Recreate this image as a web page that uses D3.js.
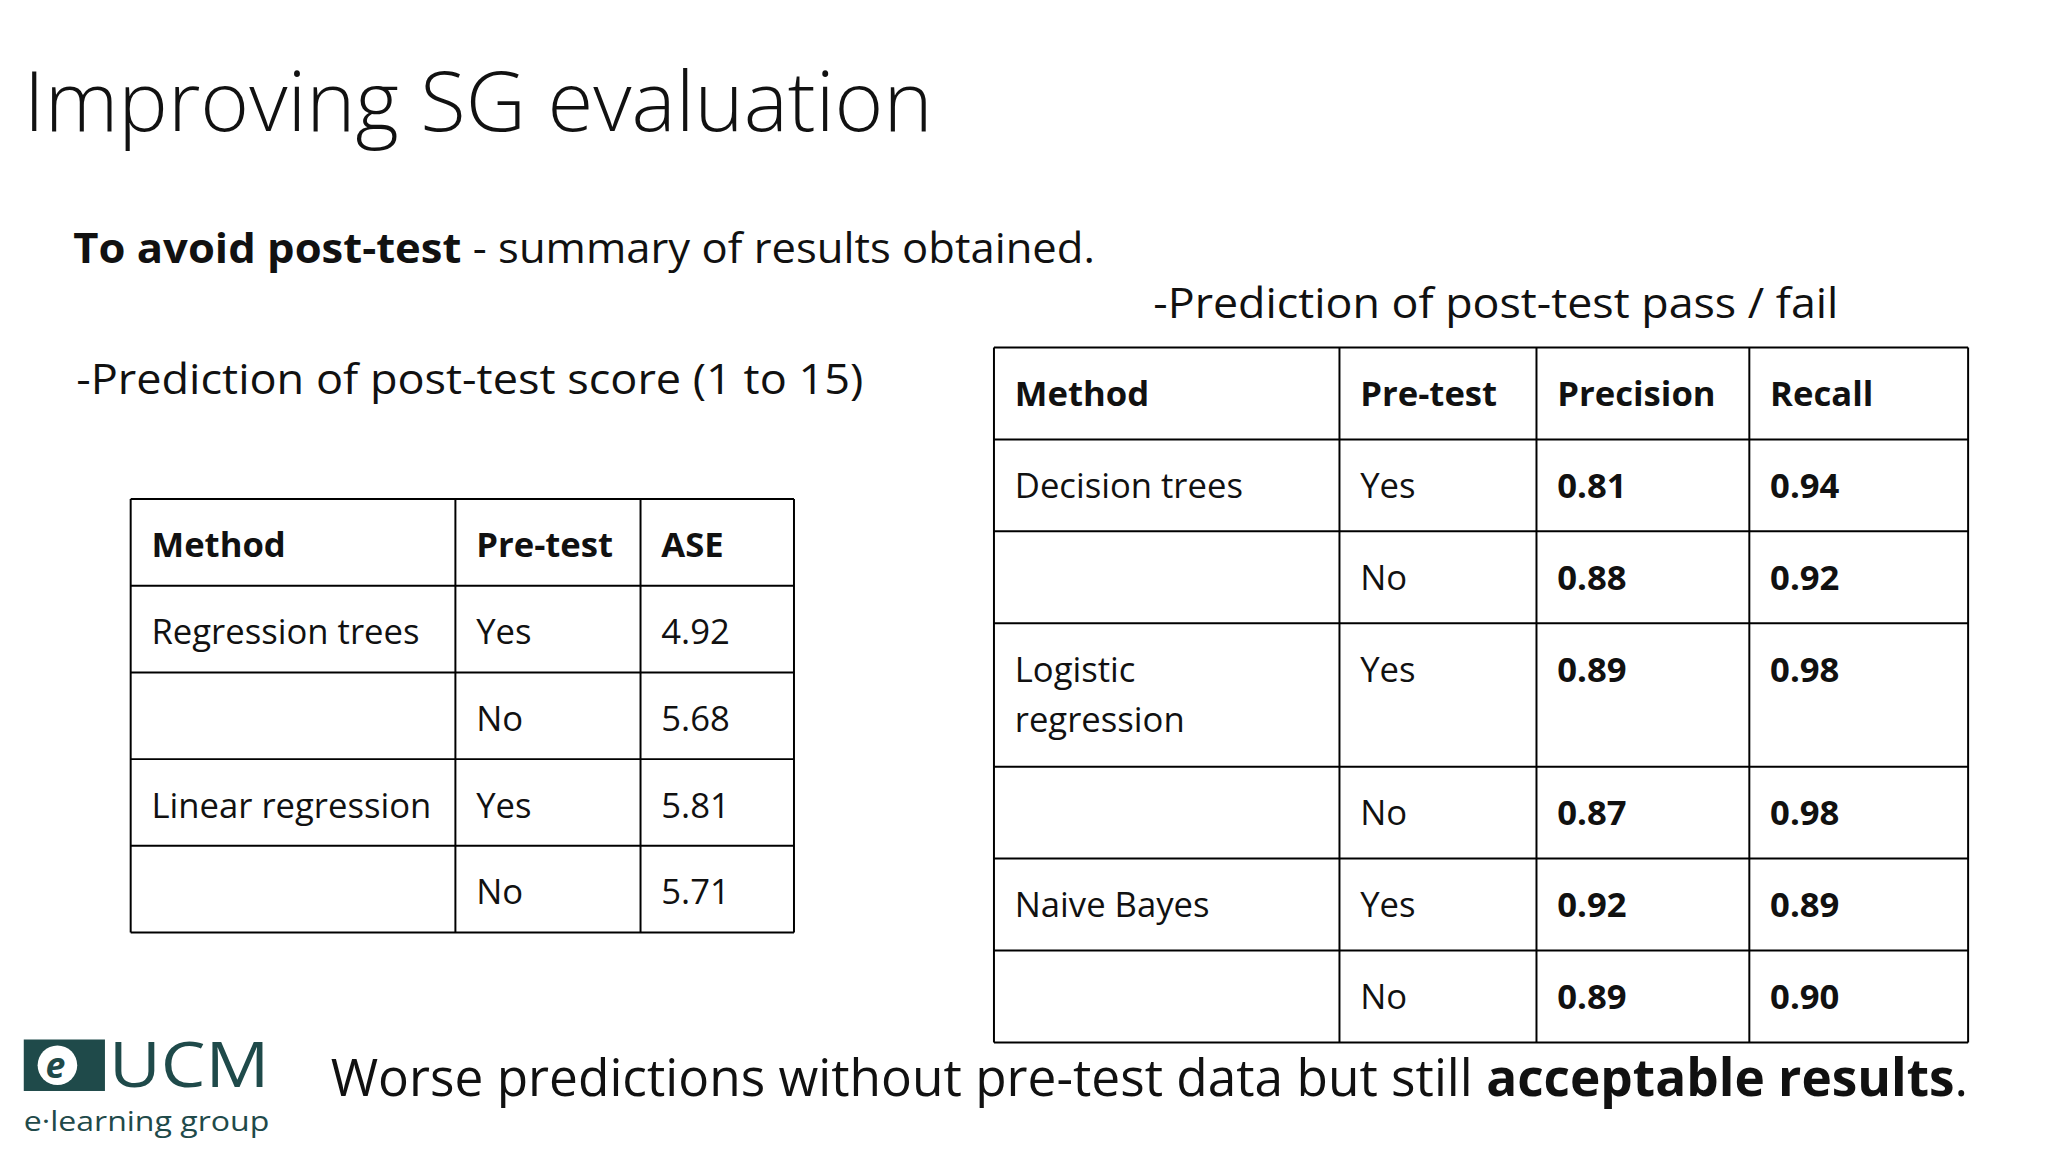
<!DOCTYPE html>
<html>
<head>
<meta charset="utf-8">
<script src="https://cdn.jsdelivr.net/npm/d3@7"></script>
<style>
body { margin: 0; background: #fff; }
text { font-family: "Open Sans", sans-serif; fill: #111; }
</style>
</head>
<body>
<svg id="slide" width="2048" height="1152"></svg>
<script>
// table data
var scoreHeader = ["Method", "Pre-test", "ASE"];
var scoreMethods = ["Regression trees", "", "Linear regression", ""];
var scorePretest = ["Yes", "No", "Yes", "No"];
var scoreASE = ["4.92", "5.68", "5.81", "5.71"];

var passHeader = ["Method", "Pre-test", "Precision", "Recall"];
var passMethods = ["Decision trees", "", "Logistic\nregression", "", "Naive Bayes", ""];
var passPretest = ["Yes", "No", "Yes", "No", "Yes", "No"];
var passPrecision = ["0.81", "0.88", "0.89", "0.87", "0.92", "0.89"];
var passRecall = ["0.94", "0.92", "0.98", "0.98", "0.89", "0.90"];

var svg = d3.select("#slide").append("g").attr("transform", "scale(0.99)");

function txt(x, y, size, s, weight, len) {
    var t = svg.append("text").attr("x", x).attr("y", y)
        .attr("font-size", size).attr("font-weight", weight || 400).text(s);
    if (len) t.attr("textLength", len).attr("lengthAdjust", "spacingAndGlyphs");
    return t;
}

txt(24, 132, 84, "Improving SG evaluation", 300, 918);

var sub = svg.append("text").attr("x", 74).attr("y", 266).attr("font-size", 42)
    .attr("textLength", 1032).attr("lengthAdjust", "spacingAndGlyphs");
sub.append("tspan").attr("font-weight", 700).text("To avoid post-test");
sub.append("tspan").text(" - summary of results obtained.");

txt(77, 398, 42, "-Prediction of post-test score (1 to 15)", 400, 795);
txt(1165, 321, 42, "-Prediction of post-test pass / fail", 400, 692);

var bottom = svg.append("text").attr("x", 334).attr("y", 1107).attr("font-size", 52)
    .attr("textLength", 1654).attr("lengthAdjust", "spacingAndGlyphs");
bottom.append("tspan").text("Worse predictions without pre-test data but still ");
bottom.append("tspan").attr("font-weight", 700).text("acceptable results");
bottom.append("tspan").text(".");

function drawTable(colEdges, rowEdges, header, columns, boldCols) {
    var g = svg.append("g");
    var x0 = colEdges[0], x1 = colEdges[colEdges.length - 1];
    var y0 = rowEdges[0], y1 = rowEdges[rowEdges.length - 1];
    g.selectAll("line.h").data(rowEdges).enter().append("line")
        .attr("x1", x0).attr("x2", x1).attr("y1", function(d) { return d; }).attr("y2", function(d) { return d; })
        .attr("stroke", "#000").attr("stroke-width", 2);
    g.selectAll("line.v").data(colEdges).enter().append("line")
        .attr("y1", y0).attr("y2", y1).attr("x1", function(d) { return d; }).attr("x2", function(d) { return d; })
        .attr("stroke", "#000").attr("stroke-width", 2);
    header.forEach(function(h, c) {
        txt(colEdges[c] + 21, rowEdges[0] + 59, 35, h, 700);
    });
    columns.forEach(function(col, c) {
        col.forEach(function(v, r) {
            var lines = v.split("\n");
            lines.forEach(function(l, k) {
                txt(colEdges[c] + 21, rowEdges[r + 1] + 59 + k * 51, 35, l, boldCols.indexOf(c) >= 0 ? 700 : 400);
            });
        });
    });
}

var leftRows = d3.scaleLinear().domain([0, 5]).range([504, 942]);
drawTable([132, 460, 647, 802], d3.range(6).map(leftRows), scoreHeader,
    [scoreMethods, scorePretest, scoreASE], []);

// logistic regression row is taller (two text lines)
var rowUnits = [1, 1, 1, 1.56, 1, 1, 1];
var rightY = d3.scaleLinear().domain([0, d3.sum(rowUnits)]).range([351, 1053]);
var acc = 0, rightEdges = [rightY(0)];
rowUnits.forEach(function(u) { acc += u; rightEdges.push(rightY(acc)); });
drawTable([1004, 1353, 1552, 1767, 1988], rightEdges, passHeader,
    [passMethods, passPretest, passPrecision, passRecall], [2, 3]);

// logo
var logo = svg.append("g");
logo.append("rect").attr("x", 24).attr("y", 1050).attr("width", 82).attr("height", 52).attr("fill", "#1f4a4a");
logo.append("circle").attr("cx", 58).attr("cy", 1076).attr("r", 20).attr("fill", "#fff");
svg.append("text").attr("x", 46).attr("y", 1089).attr("font-size", 36).attr("font-style", "italic")
    .attr("font-weight", 700).style("fill", "#1f4a4a").text("e");
svg.append("text").attr("x", 110).attr("y", 1098).attr("font-size", 62).style("fill", "#1f4a4a")
    .attr("textLength", 162).attr("lengthAdjust", "spacingAndGlyphs").text("UCM");
svg.append("text").attr("x", 24).attr("y", 1142).attr("font-size", 27).style("fill", "#1f4a4a")
    .attr("textLength", 248).attr("lengthAdjust", "spacingAndGlyphs").text("e·learning group");
</script>
</body>
</html>
